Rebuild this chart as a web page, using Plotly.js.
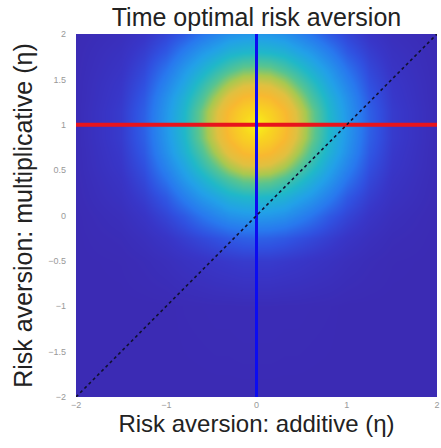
<!DOCTYPE html>
<html>
<head>
<meta charset="utf-8">
<script src="https://cdn.plot.ly/plotly-3.0.1.min.js"></script>
<style>html,body{margin:0;padding:0;background:#fff;}#chart{width:441px;height:448px;}</style>
</head>
<body>
<div id="chart"></div>
<script>
const gridX = [-2, -1.5, -1.25, -1, -0.8, -0.6, -0.45, -0.3, -0.15, 0, 0.15, 0.3, 0.45, 0.6, 0.8, 1, 1.25, 1.5, 2];
const gridY = [-2, -1, -0.5, -0.25, 0, 0.2, 0.4, 0.55, 0.7, 0.85, 1, 1.15, 1.3, 1.45, 1.6, 1.8, 2];
// Surface values (normalised), one row per gridY value
const surfaceZ = [
  [0,0,0,0,0,0,0,0,0,0,0,0,0,0,0,0,0,0,0],
  [0,0,0,0,0.002,0.003,0.004,0.004,0.005,0.005,0.005,0.004,0.004,0.003,0.002,0,0,0,0],
  [0,0.002,0.007,0.015,0.025,0.033,0.04,0.045,0.05,0.05,0.05,0.045,0.04,0.033,0.025,0.015,0.007,0.002,0],
  [0,0.007,0.018,0.035,0.055,0.075,0.09,0.105,0.116,0.12,0.116,0.105,0.09,0.075,0.055,0.035,0.018,0.007,0],
  [0,0.015,0.035,0.068,0.105,0.155,0.19,0.22,0.235,0.24,0.235,0.22,0.19,0.155,0.105,0.068,0.035,0.015,0],
  [0.002,0.025,0.055,0.105,0.175,0.24,0.28,0.32,0.34,0.35,0.34,0.32,0.28,0.24,0.175,0.105,0.055,0.025,0.002],
  [0.003,0.033,0.075,0.155,0.24,0.32,0.385,0.44,0.49,0.5,0.49,0.44,0.385,0.32,0.24,0.155,0.075,0.033,0.003],
  [0.004,0.04,0.09,0.19,0.28,0.385,0.47,0.56,0.63,0.65,0.63,0.56,0.47,0.385,0.28,0.19,0.09,0.04,0.004],
  [0.004,0.045,0.105,0.22,0.32,0.44,0.56,0.68,0.77,0.8,0.77,0.68,0.56,0.44,0.32,0.22,0.105,0.045,0.004],
  [0.005,0.05,0.116,0.235,0.34,0.49,0.63,0.77,0.87,0.92,0.87,0.77,0.63,0.49,0.34,0.235,0.116,0.05,0.005],
  [0.005,0.05,0.12,0.24,0.35,0.5,0.65,0.8,0.92,1,0.92,0.8,0.65,0.5,0.35,0.24,0.12,0.05,0.005],
  [0.005,0.05,0.116,0.235,0.34,0.49,0.63,0.77,0.87,0.92,0.87,0.77,0.63,0.49,0.34,0.235,0.116,0.05,0.005],
  [0.004,0.045,0.105,0.22,0.32,0.44,0.56,0.68,0.77,0.8,0.77,0.68,0.56,0.44,0.32,0.22,0.105,0.045,0.004],
  [0.004,0.04,0.09,0.19,0.28,0.385,0.47,0.56,0.63,0.65,0.63,0.56,0.47,0.385,0.28,0.19,0.09,0.04,0.004],
  [0.003,0.033,0.075,0.155,0.24,0.32,0.385,0.44,0.49,0.5,0.49,0.44,0.385,0.32,0.24,0.155,0.075,0.033,0.003],
  [0.002,0.025,0.055,0.105,0.175,0.24,0.28,0.32,0.34,0.35,0.34,0.32,0.28,0.24,0.175,0.105,0.055,0.025,0.002],
  [0,0.015,0.035,0.068,0.105,0.155,0.19,0.22,0.235,0.24,0.235,0.22,0.19,0.155,0.105,0.068,0.035,0.015,0]
];
// Reference lines
const diagX = [-2, 2], diagY = [-2, 2];
const additiveX = [0, 0], additiveY = [-2, 2];
const multiplicativeX = [-2, 2], multiplicativeY = [1, 1];
// Tick values
const xTicks = [-2, -1, 0, 1, 2];
const yTicks = [-2, -1.5, -1, -0.5, 0, 0.5, 1, 1.5, 2];

const colors = [
  [0, '#3b2bb4'], [0.04, '#3836c8'], [0.09, '#3050e0'], [0.16, '#2878ee'],
  [0.26, '#22a0e8'], [0.35, '#20b8c8'], [0.46, '#58c490'], [0.55, '#a8c850'],
  [0.65, '#e0c040'], [0.76, '#f8b830'], [0.9, '#f8d420'], [1, '#f8f418']
];

const traces = [
  {type: 'heatmap', x: gridX, y: gridY, z: surfaceZ, zmin: 0, zmax: 1,
   zsmooth: 'best', colorscale: colors, showscale: false, hoverinfo: 'skip'},
  {type: 'scatter', mode: 'lines', x: multiplicativeX, y: multiplicativeY,
   line: {color: '#e8141c', width: 4}, hoverinfo: 'skip'},
  {type: 'scatter', mode: 'lines', x: additiveX, y: additiveY,
   line: {color: '#0c0cf0', width: 3}, hoverinfo: 'skip'},
  {type: 'scatter', mode: 'lines', x: diagX, y: diagY,
   line: {color: '#101030', width: 1.6, dash: 'dot'}, hoverinfo: 'skip'}
];

const layout = {
  width: 441, height: 448,
  margin: {l: 76, r: 4, t: 34, b: 51},
  showlegend: false,
  paper_bgcolor: '#ffffff', plot_bgcolor: '#ffffff',
  font: {family: 'Liberation Sans, Arial, sans-serif', color: '#222'},
  title: {text: 'Time optimal risk aversion', font: {size: 25, color: '#222'},
          xref: 'paper', x: 0.5, xanchor: 'center', yref: 'container', y: 0.962, yanchor: 'middle'},
  xaxis: {range: [-2, 2], tickvals: xTicks, ticks: '', showgrid: false, zeroline: false,
          showline: false, tickfont: {size: 9, color: '#999'}, ticklabelstandoff: 1,
          title: {text: 'Risk aversion: additive (η)', font: {size: 24, color: '#222'}, standoff: 4}},
  yaxis: {range: [-2, 2], tickvals: yTicks, ticks: '', showgrid: false, zeroline: false,
          showline: false, tickfont: {size: 9, color: '#999'}, ticklabelstandoff: 9,
          title: {text: 'Risk aversion: multiplicative (η)', font: {size: 25, color: '#222'}, standoff: 8}}
};

Plotly.newPlot('chart', traces, layout, {displayModeBar: false, staticPlot: true});
</script>
</body>
</html>
